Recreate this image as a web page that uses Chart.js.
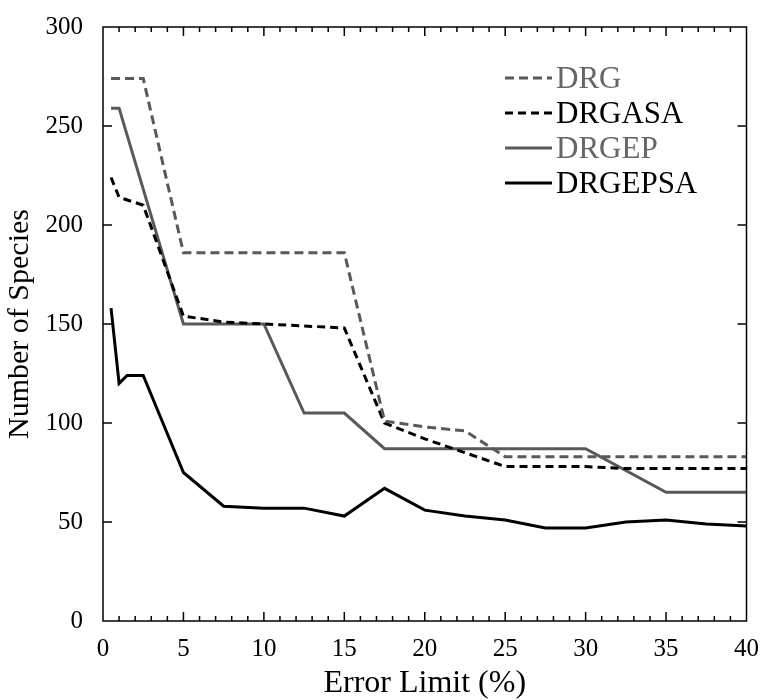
<!DOCTYPE html>
<html>
<head>
<meta charset="utf-8">
<script src="https://cdn.jsdelivr.net/npm/chart.js@4/dist/chart.umd.min.js"></script>
<style>
  html, body { margin: 0; padding: 0; background: #fff; }
  #wrap { width: 764px; height: 700px; }
</style>
</head>
<body>
<div id="wrap"><canvas id="chart" width="764" height="700"></canvas></div>
<script>
// error limit (%) values on the x axis
const errorLimits = [0.5, 1, 1.5, 2.5, 5, 7.5, 10, 12.5, 15, 17.5, 20, 22.5, 25, 27.5, 30, 32.5, 35, 37.5, 40];

// number of species for each method (null = no point there)
const drg     = [274, null, null, 274, 186, 186, 186, 186, 186, 101, 98, 96, 83, 83, 83, 83, 83, 83, 83];
const drgasa  = [224, 214, null, 210, 154, 151, 150, 149, 148, 100, 92, 85, 78, 78, 78, 77, 77, 77, 77];
const drgep   = [259, 259, null, null, 150, 150, 150, 105, 105, 87, 87, 87, 87, 87, 87, null, 65, 65, 65];
const drgepsa = [158, 120, 124, 124, 75, 58, 57, 57, 53, 67, 56, 53, 51, 47, 47, 50, 51, 49, 48];

const seriesNames = ["DRG", "DRGASA", "DRGEP", "DRGEPSA"];
const xTicks = [0, 5, 10, 15, 20, 25, 30, 35, 40];
const yTicks = [0, 50, 100, 150, 200, 250, 300];

const GRAY = "#595959";
const FONT = "'Liberation Serif', 'Times New Roman', serif";

const toPoints = (vals) => errorLimits.map((x, i) => ({ x: x, y: vals[i] }));

const styles = [
  { color: GRAY, dash: [9, 5], text: "#666666" },
  { color: "#000", dash: [8, 5], text: "#000" },
  { color: GRAY, dash: [], text: "#666666" },
  { color: "#000", dash: [], text: "#000" },
];

const datasets = [drg, drgasa, drgep, drgepsa].map((vals, i) => ({
  label: seriesNames[i],
  data: toPoints(vals),
  borderColor: styles[i].color,
  borderDash: styles[i].dash,
  borderWidth: 3,
  pointRadius: 0,
  tension: 0,
  spanGaps: true,
  fill: false,
}));

// box around the plot with inward ticks on all four sides, plus the legend
const framePlugin = {
  id: "frame",
  afterDraw(chart) {
    const ctx = chart.ctx;
    const a = chart.chartArea;
    const xs = chart.scales.x;
    const ys = chart.scales.y;
    ctx.save();
    ctx.strokeStyle = "#000";
    ctx.lineWidth = 1.5;
    ctx.setLineDash([]);
    ctx.strokeRect(a.left, a.top, a.right - a.left, a.bottom - a.top);

    ctx.beginPath();
    for (let v = 1; v < 40; v++) {
      const px = xs.getPixelForValue(v);
      const len = v % 5 === 0 ? 9 : 5;
      ctx.moveTo(px, a.bottom); ctx.lineTo(px, a.bottom - len);
      ctx.moveTo(px, a.top); ctx.lineTo(px, a.top + len);
    }
    yTicks.slice(1, -1).forEach(v => {
      const py = ys.getPixelForValue(v);
      ctx.moveTo(a.left, py); ctx.lineTo(a.left + 9, py);
      ctx.moveTo(a.right, py); ctx.lineTo(a.right - 9, py);
    });
    ctx.stroke();

    // legend
    const lx = 505, ly = 78, gap = 35;
    ctx.font = "31px " + FONT;
    ctx.textBaseline = "middle";
    ctx.textAlign = "left";
    seriesNames.forEach((name, i) => {
      const y = ly + i * gap;
      ctx.strokeStyle = styles[i].color;
      ctx.lineWidth = 3;
      ctx.setLineDash(styles[i].dash);
      ctx.beginPath();
      ctx.moveTo(lx, y); ctx.lineTo(lx + 47, y);
      ctx.stroke();
      ctx.fillStyle = styles[i].text;
      ctx.fillText(name, lx + 51, y + 2);
    });
    ctx.restore();
  }
};

new Chart(document.getElementById("chart"), {
  type: "line",
  data: { datasets: datasets },
  options: {
    responsive: false,
    animation: false,
    layout: { padding: { top: 23, right: 16, left: 0, bottom: 0 } },
    plugins: { legend: { display: false }, tooltip: { enabled: false } },
    scales: {
      x: {
        type: "linear",
        min: 0, max: 40,
        afterBuildTicks: (s) => { s.ticks = xTicks.map(v => ({ value: v })); },
        afterFit: (s) => { s.height = 79; },
        grid: { display: false },
        border: { display: false },
        ticks: { color: "#000", font: { family: FONT, size: 25 }, padding: 5, maxRotation: 0 },
        title: { display: true, text: "Error Limit (%)", color: "#000", font: { family: FONT, size: 32, lineHeight: 1 }, padding: { top: 0, bottom: 0 } },
      },
      y: {
        min: 0, max: 300,
        afterBuildTicks: (s) => { s.ticks = yTicks.map(v => ({ value: v })); },
        afterFit: (s) => { s.width = 103; },
        grid: { display: false },
        border: { display: false },
        ticks: { color: "#000", font: { family: FONT, size: 25 }, padding: 12 },
        title: { display: true, text: "Number of Species", color: "#000", font: { family: FONT, size: 30 }, padding: { top: 2, bottom: 0 } },
      },
    },
  },
  plugins: [framePlugin],
});
</script>
</body>
</html>
